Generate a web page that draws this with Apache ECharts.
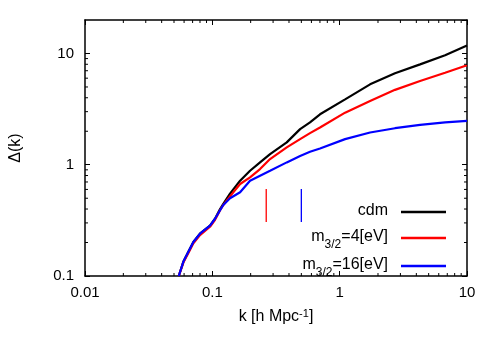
<!DOCTYPE html>
<html><head><meta charset="utf-8">
<script src="https://cdn.jsdelivr.net/npm/echarts@6/dist/echarts.min.js"></script>
<style>html,body{margin:0;padding:0;background:#fff}#c{width:498px;height:349px}</style>
</head><body><div id="c"></div>
<script>
const k    = [0.0545, 0.0592, 0.0647, 0.071, 0.080, 0.0959, 0.105, 0.115, 0.122, 0.1377, 0.1652, 0.1977, 0.237, 0.284, 0.384, 0.489, 0.585, 0.701, 1.103, 1.733, 2.72, 4.28, 6.73, 10];
const cdm  = [0.1, 0.134, 0.164, 0.202, 0.240, 0.284, 0.327, 0.40, 0.445, 0.55, 0.719, 0.883, 1.05, 1.247, 1.588, 2.09, 2.40, 2.84, 3.87, 5.28, 6.65, 7.98, 9.66, 11.8];
const m4   = [0.1, 0.132, 0.160, 0.197, 0.233, 0.277, 0.32, 0.39, 0.435, 0.52, 0.671, 0.771, 0.914, 1.125, 1.431, 1.70, 1.923, 2.16, 2.94, 3.74, 4.71, 5.65, 6.71, 7.85];
const m16  = [0.1, 0.134, 0.164, 0.202, 0.240, 0.284, 0.327, 0.39, 0.435, 0.50, 0.566, 0.719, 0.798, 0.883, 1.05, 1.20, 1.307, 1.40, 1.70, 1.95, 2.13, 2.28, 2.40, 2.48];
const markK  = [0.265, 0.50];
const markLo = [0.305, 0.305];
const markHi = [0.606, 0.606];
const xMinor = [0.02,0.03,0.04,0.05,0.06,0.07,0.08,0.09,0.2,0.3,0.4,0.5,0.6,0.7,0.8,0.9,2,3,4,5,6,7,8,9];
const yMinor = [0.2,0.3,0.4,0.5,0.6,0.7,0.8,0.9,2,3,4,5,6,7,8,9];
const xMajorLabels = [0.01, 0.1, 1, 10];
const yMajorLabels = [0.1, 1, 10];
const X_MIN = 0.01, X_MAX = 10, Y_MIN = 0.1, Y_MAX = 20;

const FONT = 'Liberation Sans, Arial, Helvetica, sans-serif';
const zip = (a, b) => a.map((v, i) => [v, b[i]]);
const fmt = list => v => {
  const hit = list.find(t => Math.abs(Math.log10(v) - Math.log10(t)) < 1e-6);
  return hit === undefined ? '' : String(hit);
};

function xMinorRender(params, api) {
  const v = api.value(0);
  const b = api.coord([v, Y_MIN]);
  const t = api.coord([v, Y_MAX]);
  return {type: 'group', children: [
    {type: 'line', shape: {x1: b[0], y1: b[1], x2: b[0], y2: b[1] - 3}, style: {stroke: '#000', lineWidth: 1}},
    {type: 'line', shape: {x1: t[0], y1: t[1], x2: t[0], y2: t[1] + 3}, style: {stroke: '#000', lineWidth: 1}}
  ]};
}
function yMinorRender(params, api) {
  const v = api.value(1);
  const l = api.coord([X_MIN, v]);
  const r = api.coord([X_MAX, v]);
  return {type: 'group', children: [
    {type: 'line', shape: {x1: l[0], y1: l[1], x2: l[0] + 3, y2: l[1]}, style: {stroke: '#000', lineWidth: 1}},
    {type: 'line', shape: {x1: r[0], y1: r[1], x2: r[0] - 3, y2: r[1]}, style: {stroke: '#000', lineWidth: 1}}
  ]};
}

const axisCommon = {
  type: 'log', logBase: 10,
  axisLine: {show: true, onZero: false, lineStyle: {color: '#000', width: 1.5}},
  axisTick: {show: true, inside: true, length: 5, lineStyle: {color: '#000', width: 1}},
  splitLine: {show: false},
  minorTick: {show: false}
};

const legendRich = {
  m: {fontSize: 16, lineHeight: 18, verticalAlign: 'top', color: '#000', fontFamily: FONT},
  s: {fontSize: 12, lineHeight: 12, padding: [10, 0, 0, 0], verticalAlign: 'top', color: '#000', fontFamily: FONT}
};
const legendLabels = {
  cdm: '{m|cdm}',
  m4: '{m|m}{s|3/2}{m|=4[eV]}',
  m16: '{m|m}{s|3/2}{m|=16[eV]}'
};
function mkLegend(name, top) {
  return {
    data: [name], top: top, right: 52, orient: 'vertical', align: 'right',
    icon: 'rect', itemWidth: 45, itemHeight: 2.5, padding: 0,
    selectedMode: false,
    formatter: n => legendLabels[n],
    textStyle: {fontSize: 16, fontFamily: FONT, color: '#000', padding: [0, 8, 0, 0], rich: legendRich}
  };
}

const chart = echarts.init(document.getElementById('c'), null, {renderer: 'canvas'});
chart.setOption({
  animation: false,
  backgroundColor: '#fff',
  grid: {left: 85, right: 31, top: 20, bottom: 73},
  legend: [mkLegend('cdm', 203), mkLegend('m4', 229), mkLegend('m16', 257)],
  xAxis: [
    Object.assign({}, axisCommon, {
      position: 'bottom', min: X_MIN, max: X_MAX,
      axisLabel: {color: '#000', fontSize: 15, fontFamily: FONT, margin: 9, formatter: fmt(xMajorLabels)},
      name: 'k [h Mpc{sup|-1}]', nameLocation: 'middle', nameGap: 32,
      nameTextStyle: {color: '#000', fontSize: 16, fontFamily: FONT, lineHeight: 18, verticalAlign: 'top',
        rich: {sup: {fontSize: 11, lineHeight: 11, verticalAlign: 'top', color: '#000', fontFamily: FONT}}}
    }),
    Object.assign({}, axisCommon, {
      position: 'top', min: X_MIN, max: X_MAX, axisLabel: {show: false}
    })
  ],
  yAxis: [
    Object.assign({}, axisCommon, {
      position: 'left', min: Y_MIN, max: Y_MAX,
      axisLabel: {color: '#000', fontSize: 15, fontFamily: FONT, margin: 11, showMaxLabel: false, formatter: fmt(yMajorLabels)},
      name: 'Δ(k)', nameLocation: 'middle', nameGap: 61, nameRotate: 90,
      nameTextStyle: {color: '#000', fontSize: 16, fontFamily: FONT}
    }),
    Object.assign({}, axisCommon, {
      position: 'right', min: Y_MIN, max: Y_MAX, axisLabel: {show: false}
    })
  ],
  series: [
    {type: 'custom', xAxisIndex: 0, yAxisIndex: 0, renderItem: xMinorRender, data: xMinor.map(v => [v, Y_MIN]), silent: true, clip: false, z: 5},
    {type: 'custom', xAxisIndex: 0, yAxisIndex: 0, renderItem: yMinorRender, data: yMinor.map(v => [X_MIN, v]), silent: true, clip: false, z: 5},
    {type: 'line', name: 'red-mark', data: [[markK[0], markLo[0]], [markK[0], markHi[0]]], showSymbol: false, lineStyle: {color: '#ff0000', width: 1.3}, z: 3},
    {type: 'line', name: 'blue-mark', data: [[markK[1], markLo[1]], [markK[1], markHi[1]]], showSymbol: false, lineStyle: {color: '#0000ff', width: 1.3}, z: 3},
    {type: 'line', name: 'cdm', data: zip(k, cdm), showSymbol: false, smooth: false, color: '#000000', lineStyle: {color: '#000000', width: 2.2}, z: 2, clip: true},
    {type: 'line', name: 'm4', data: zip(k, m4), showSymbol: false, smooth: false, color: '#ff0000', lineStyle: {color: '#ff0000', width: 2.2}, z: 2, clip: true},
    {type: 'line', name: 'm16', data: zip(k, m16), showSymbol: false, smooth: false, color: '#0000ff', lineStyle: {color: '#0000ff', width: 2.2}, z: 2, clip: true}
  ]
});
</script></body></html>
